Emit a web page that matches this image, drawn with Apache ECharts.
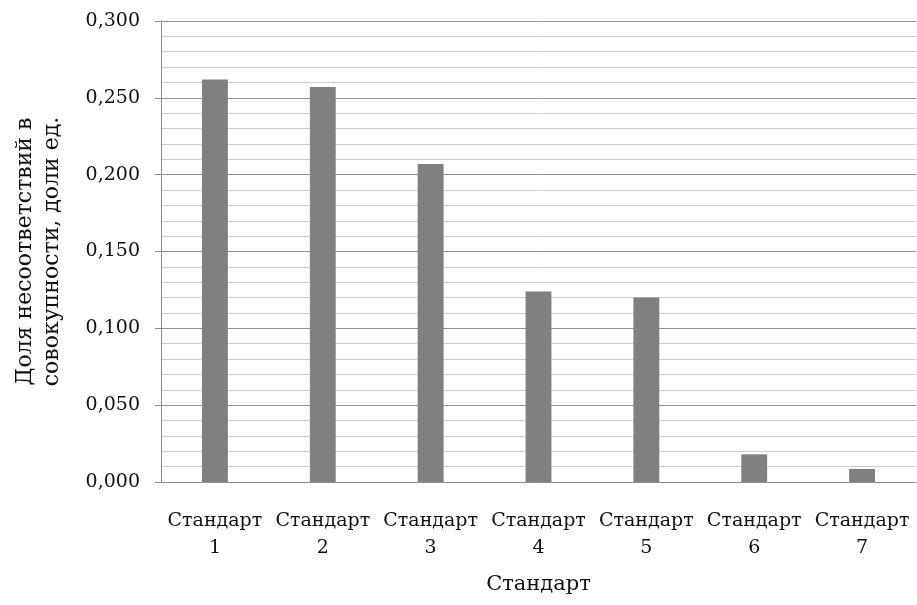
<!DOCTYPE html>
<html>
<head>
<meta charset="utf-8">
<script src="https://cdn.jsdelivr.net/npm/echarts@6/dist/echarts.min.js"></script>
<style>
html,body{margin:0;padding:0;background:#fff;}
#c{width:917px;height:605px;}
</style>
</head>
<body>
<div id="c"></div>
<script>
const categories = ['Стандарт\n1','Стандарт\n2','Стандарт\n3','Стандарт\n4','Стандарт\n5','Стандарт\n6','Стандарт\n7'];
const values = [0.262, 0.257, 0.207, 0.124, 0.120, 0.018, 0.0085];
const yTitle = 'Доля несоответствий в\nсовокупности, доли ед.';
const xTitle = 'Стандарт';
const FONT = '"DejaVu Serif", "Liberation Serif", serif';

const chart = echarts.init(document.getElementById('c'));
chart.setOption({
  backgroundColor: '#fff',
  animation: false,
  grid: { left: 161, right: 1, top: 21, bottom: 123, containLabel: false },
  xAxis: {
    type: 'category',
    data: categories,
    name: xTitle,
    nameLocation: 'middle',
    nameGap: 92,
    nameTextStyle: { fontFamily: FONT, fontSize: 21, color: '#111' },
    axisLine: { lineStyle: { color: '#8c8c8c', width: 1 } },
    axisTick: { show: false },
    axisLabel: { fontFamily: FONT, fontSize: 19, color: '#111', margin: 26, lineHeight: 27, interval: 0 }
  },
  yAxis: {
    type: 'value',
    min: 0, max: 0.3, interval: 0.05,
    name: yTitle,
    nameLocation: 'middle',
    nameRotate: 90,
    nameGap: 95,
    nameTextStyle: { fontFamily: FONT, fontSize: 22, color: '#111', lineHeight: 27 },
    axisLine: { show: true, lineStyle: { color: '#8c8c8c', width: 1 } },
    axisTick: { show: true, length: 6, lineStyle: { color: '#8c8c8c' } },
    axisLabel: { fontFamily: FONT, fontSize: 19, color: '#111', margin: 21,
      formatter: v => v.toFixed(3).replace('.', ',') },
    splitLine: { show: true, lineStyle: { color: '#929292', width: 1 } },
    minorTick: { show: false, splitNumber: 5 },
    minorSplitLine: { show: true, lineStyle: { color: '#cdcdcd', width: 1 } }
  },
  series: [{
    type: 'bar',
    data: values,
    barWidth: '24%',
    itemStyle: { color: '#808080' }
  }]
});
</script>
</body>
</html>
